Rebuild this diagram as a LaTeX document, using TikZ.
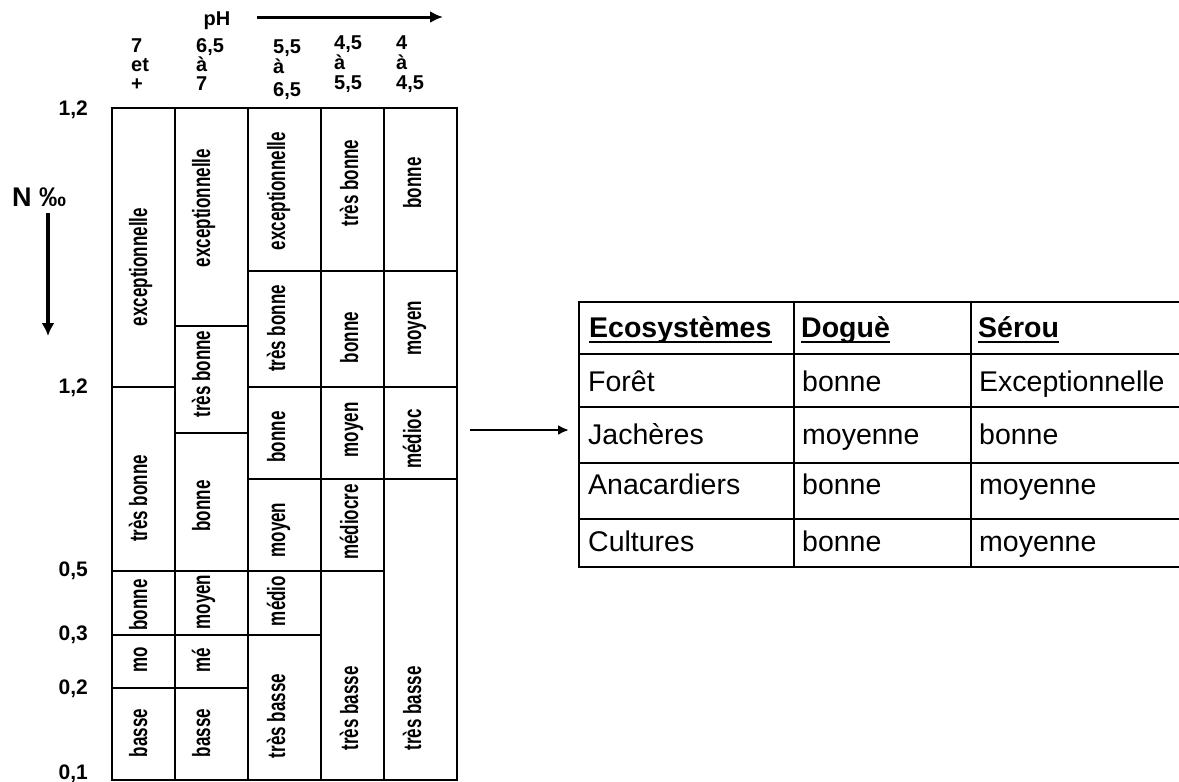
\documentclass[tikz,border=0pt]{standalone}
\usepackage{fontspec}
\setmainfont{Liberation Sans}
\newfontfamily\cellfont[FakeStretch=0.68]{Liberation Sans}
\usetikzlibrary{arrows.meta}
\begin{document}
\begin{tikzpicture}[x=1pt,y=-1pt,
  cell/.style={rotate=90,anchor=base,inner sep=0pt,font=\cellfont\bfseries\fontsize{25}{29}\selectfont},
  ax/.style={anchor=east,inner sep=0pt,font=\bfseries\fontsize{21}{24}\selectfont},
  hd/.style={anchor=base west,inner sep=0pt,font=\bfseries\fontsize{20}{23}\selectfont},
  gridline/.style={line width=2pt},
  tb/.style={anchor=base west,inner sep=0pt,font=\fontsize{28.5}{32}\selectfont},
  tbh/.style={anchor=base west,inner sep=0pt,font=\bfseries\fontsize{28.5}{32}\selectfont},
  arr/.style={line width=3pt,-{Latex[length=13pt,width=12pt]}},
]
\useasboundingbox (0,0) rectangle (1179,782);

% ---- pH header ----
\node[anchor=base,inner sep=0pt,font=\bfseries\fontsize{20}{24}\selectfont] (ph) at (217,25) {pH};
\coordinate (phA) at (257,17);
\coordinate (phB) at (443,17);
\draw[arr] (phA) -- (phB);

\node[hd] (h11) at (131,52.5) {7};
\node[hd] (h12) at (131,71.5) {et};
\node[hd] (h13) at (131,90) {+};
\node[hd] (h21) at (196,52.5) {6,5};
\node[hd] (h22) at (196,71.5) {à};
\node[hd] (h23) at (196,90.5) {7};
\node[hd] (h31) at (273,53.5) {5,5};
\node[hd] (h32) at (273,73.5) {à};
\node[hd] (h33) at (273,96) {6,5};
\node[hd] (h41) at (334,49) {4,5};
\node[hd] (h42) at (334,69.5) {à};
\node[hd] (h43) at (334,89) {5,5};
\node[hd] (h51) at (396,49.5) {4};
\node[hd] (h52) at (396,69.5) {à};
\node[hd] (h53) at (396,89) {4,5};

% ---- N axis ----
\node[anchor=base west,inner sep=0pt,font=\bfseries\fontsize{27}{30}\selectfont] (N) at (12,206) {N ‰};
\coordinate (nA) at (48,213);
\coordinate (nB) at (48,336);
\draw[arr,line width=3.3pt,-{Latex[length=13pt,width=13pt]}] (nA) -- (nB);

\node[ax] (a1) at (88,109.5) {1,2};
\node[ax] (a2) at (88,388) {1,2};
\node[ax] (a3) at (88,570.5) {0,5};
\node[ax] (a4) at (88,635) {0,3};
\node[ax] (a5) at (88,688.5) {0,2};
\node[ax] (a6) at (88,773.5) {0,1};

% ---- chart grid ----
\draw[gridline] (112,108) rectangle (457,780);
\foreach \x in {175,248,321,384} \draw[gridline] (\x,108) -- (\x,780);
\draw[gridline] (248,271) -- (457,271);
\draw[gridline] (175,326) -- (248,326);
\draw[gridline] (112,387) -- (175,387);
\draw[gridline] (248,387) -- (457,387);
\draw[gridline] (175,433) -- (248,433);
\draw[gridline] (248,479) -- (457,479);
\draw[gridline] (112,571) -- (384,571);
\draw[gridline] (112,635) -- (321,635);
\draw[gridline] (112,688) -- (248,688);

% ---- chart cells ----
\node[cell] (c11) at (147,267) {exceptionnelle};
\node[cell] (c12) at (147,498.5) {très bonne};
\node[cell] (c13) at (147,605) {bonne};
\node[cell] (c14) at (147,660) {mo};
\node[cell] (c15) at (147,733) {basse};

\node[cell] (c21) at (210,208) {exceptionnelle};
\node[cell] (c22) at (210,374) {très bonne};
\node[cell] (c23) at (210,506) {bonne};
\node[cell] (c24) at (210,602) {moyen};
\node[cell] (c25) at (210,660) {mé};
\node[cell] (c26) at (210,733) {basse};

\node[cell] (c31) at (285,191) {exceptionnelle};
\node[cell] (c32) at (285,328.5) {très bonne};
\node[cell] (c33) at (285,437) {bonne};
\node[cell] (c34) at (285,530) {moyen};
\node[cell] (c35) at (285,601) {médio};
\node[cell] (c36) at (285,716) {très basse};

\node[cell] (c41) at (358,183) {très bonne};
\node[cell] (c42) at (358,337.5) {bonne};
\node[cell] (c43) at (358,430) {moyen};
\node[cell] (c44) at (358,522) {médiocre};
\node[cell] (c45) at (358,708.5) {très basse};

\node[cell] (c51) at (421,183) {bonne};
\node[cell] (c52) at (421,328.5) {moyen};
\node[cell] (c53) at (421,439) {médioc};
\node[cell] (c54) at (421,708.5) {très basse};

% ---- arrow to table ----
\coordinate (tA) at (470,430);
\coordinate (tB) at (569,430);
\draw[line width=2.6pt,-{Latex[length=11pt,width=10pt]}] (tA) -- (tB);

% ---- table ----
\begin{scope}
\clip (0,0) rectangle (1179,782);
\foreach \y in {354,407,463,519} \draw[line width=1.8pt] (579,\y) -- (1190,\y);
\foreach \x in {794,971} \draw[line width=1.8pt] (\x,302) -- (\x,567);
\draw[line width=2.6pt] (1190,302) -- (579,302) -- (579,567) -- (1190,567);
\end{scope}

\node[tbh] (t1) at (589,337) {Ecosystèmes};
\node[tbh] (t2) at (801,337) {Doguè};
\node[tbh] (t3) at (978,337) {Sérou};
\foreach \n in {t1,t2,t3}
  \draw[line width=2pt] ([yshift=-4.5pt]\n.base west) -- ([yshift=-4.5pt]\n.base east);

\node[tb] (r11) at (588,391) {Forêt};
\node[tb] (r12) at (802,391) {bonne};
\node[tb] (r13) at (979,391) {Exceptionnelle};
\node[tb] (r21) at (588,444) {Jachères};
\node[tb] (r22) at (802,444) {moyenne};
\node[tb] (r23) at (979,444) {bonne};
\node[tb] (r31) at (588,494) {Anacardiers};
\node[tb] (r32) at (802,494) {bonne};
\node[tb] (r33) at (979,494) {moyenne};
\node[tb] (r41) at (588,551) {Cultures};
\node[tb] (r42) at (802,551) {bonne};
\node[tb] (r43) at (979,551) {moyenne};
\end{tikzpicture}
\end{document}
